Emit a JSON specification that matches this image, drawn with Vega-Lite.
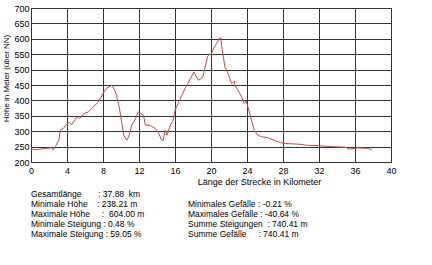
{
  "$schema": "https://vega.github.io/schema/vega-lite/v6.json",
  "padding": {"left": 2, "top": 3, "right": 5, "bottom": 0},
  "background": "white",
  "spacing": 2,
  "config": {
    "font": "Liberation Sans",
    "view": {"stroke": "#333333"},
    "axis": {
      "labelFlush": false,
      "labelFont": "Liberation Sans",
      "labelFontSize": 9,
      "labelColor": "#000000",
      "titleFont": "Liberation Sans",
      "titleFontWeight": "normal",
      "titleColor": "#000000",
      "domain": false,
      "ticks": false,
      "gridColor": "#333333",
      "gridOpacity": 1,
      "gridWidth": 1
    }
  },
  "vconcat": [
    {
      "width": 360,
      "height": 154,
      "data": {"values": [
        {"km": 0, "hoehe": 242}, {"km": 0.5, "hoehe": 240}, {"km": 1.6, "hoehe": 244}, {"km": 2.3, "hoehe": 246},
        {"km": 2.45, "hoehe": 239}, {"km": 2.7, "hoehe": 250}, {"km": 3.1, "hoehe": 271}, {"km": 3.25, "hoehe": 303},
        {"km": 3.6, "hoehe": 309}, {"km": 4.0, "hoehe": 325}, {"km": 4.2, "hoehe": 329}, {"km": 4.55, "hoehe": 322},
        {"km": 5.1, "hoehe": 347}, {"km": 5.4, "hoehe": 341}, {"km": 5.85, "hoehe": 357}, {"km": 6.4, "hoehe": 363},
        {"km": 7.1, "hoehe": 384}, {"km": 7.5, "hoehe": 395}, {"km": 8.1, "hoehe": 427}, {"km": 8.45, "hoehe": 441},
        {"km": 8.8, "hoehe": 446}, {"km": 9.0, "hoehe": 449}, {"km": 9.4, "hoehe": 427}, {"km": 9.8, "hoehe": 379},
        {"km": 10.1, "hoehe": 325}, {"km": 10.3, "hoehe": 287}, {"km": 10.65, "hoehe": 271}, {"km": 10.85, "hoehe": 282},
        {"km": 11.2, "hoehe": 320}, {"km": 11.6, "hoehe": 339}, {"km": 11.9, "hoehe": 363}, {"km": 12.15, "hoehe": 357},
        {"km": 12.5, "hoehe": 352}, {"km": 12.7, "hoehe": 320}, {"km": 13.1, "hoehe": 320}, {"km": 13.4, "hoehe": 316},
        {"km": 13.8, "hoehe": 309}, {"km": 14.2, "hoehe": 293}, {"km": 14.5, "hoehe": 271}, {"km": 14.7, "hoehe": 271},
        {"km": 14.9, "hoehe": 303}, {"km": 15.1, "hoehe": 287}, {"km": 15.5, "hoehe": 320}, {"km": 15.8, "hoehe": 336},
        {"km": 16.0, "hoehe": 368}, {"km": 16.6, "hoehe": 406}, {"km": 17.1, "hoehe": 438}, {"km": 17.7, "hoehe": 470},
        {"km": 18.1, "hoehe": 492}, {"km": 18.6, "hoehe": 465}, {"km": 19.1, "hoehe": 476}, {"km": 19.6, "hoehe": 540},
        {"km": 19.8, "hoehe": 551}, {"km": 20.0, "hoehe": 548}, {"km": 20.26, "hoehe": 567}, {"km": 20.6, "hoehe": 584},
        {"km": 20.9, "hoehe": 600}, {"km": 21.07, "hoehe": 604}, {"km": 21.26, "hoehe": 562}, {"km": 21.55, "hoehe": 508},
        {"km": 21.9, "hoehe": 487}, {"km": 22.3, "hoehe": 454}, {"km": 22.6, "hoehe": 462}, {"km": 22.65, "hoehe": 449},
        {"km": 23.0, "hoehe": 433}, {"km": 23.4, "hoehe": 411}, {"km": 23.7, "hoehe": 390}, {"km": 23.9, "hoehe": 398},
        {"km": 24.1, "hoehe": 379}, {"km": 24.5, "hoehe": 336}, {"km": 24.8, "hoehe": 303}, {"km": 25.2, "hoehe": 287},
        {"km": 25.6, "hoehe": 282}, {"km": 26.3, "hoehe": 279}, {"km": 27.0, "hoehe": 271}, {"km": 27.8, "hoehe": 262},
        {"km": 28.1, "hoehe": 260}, {"km": 29.7, "hoehe": 258}, {"km": 30.8, "hoehe": 254}, {"km": 31.9, "hoehe": 253},
        {"km": 33.4, "hoehe": 250}, {"km": 34.9, "hoehe": 248}, {"km": 35.4, "hoehe": 242}, {"km": 36.4, "hoehe": 246},
        {"km": 37.5, "hoehe": 244}, {"km": 37.88, "hoehe": 239}
      ]},
      "mark": {"type": "line", "color": "#b5504c", "strokeWidth": 1},
      "encoding": {
        "x": {
          "field": "km", "type": "quantitative",
          "scale": {"domain": [0, 40], "nice": false},
          "axis": {
            "values": [0, 4, 8, 12, 16, 20, 24, 28, 32, 36, 40],
            "labelPadding": 4,
            "title": "Länge der Strecke in Kilometer",
            "titleFontSize": 9,
            "titleX": 228,
            "titleAlign": "center",
            "titlePadding": 2
          }
        },
        "y": {
          "field": "hoehe", "type": "quantitative",
          "scale": {"domain": [200, 700], "nice": false, "zero": false},
          "axis": {
            "values": [200, 250, 300, 350, 400, 450, 500, 550, 600, 650, 700],
            "labelPadding": 2,
            "title": "Höhe in Meter (über NN)",
            "titleFontSize": 8,
            "titleY": 70,
            "titlePadding": 3
          }
        }
      }
    },
    {
      "width": 360,
      "height": 50,
      "view": {"stroke": null},
      "data": {"values": [
        {"spalte": "links", "zeile": 0, "text": "Gesamtlänge\u00a0\u00a0\u00a0\u00a0\u00a0\u00a0\u00a0: 37.88\u00a0 km"},
        {"spalte": "links", "zeile": 1, "text": "Minimale Höhe\u00a0\u00a0\u00a0\u00a0: 238.21 m"},
        {"spalte": "links", "zeile": 2, "text": "Maximale Höhe\u00a0\u00a0\u00a0\u00a0\u00a0:\u00a0 604.00 m"},
        {"spalte": "links", "zeile": 3, "text": "Minimale Steigung : 0.48 %"},
        {"spalte": "links", "zeile": 4, "text": "Maximale Steigung : 59.05 %"},
        {"spalte": "rechts", "zeile": 1, "text": "Minimales Gefälle : -0.21 %"},
        {"spalte": "rechts", "zeile": 2, "text": "Maximales Gefälle : -40.64 %"},
        {"spalte": "rechts", "zeile": 3, "text": "Summe Steigungen\u00a0 : 740.41 m"},
        {"spalte": "rechts", "zeile": 4, "text": "Summe Gefälle\u00a0\u00a0\u00a0\u00a0 : 740.41 m"}
      ]},
      "mark": {"type": "text", "align": "left", "baseline": "middle", "fontSize": 8.5, "font": "Liberation Sans", "color": "#000000"},
      "encoding": {
        "x": {"field": "spalte", "type": "nominal", "scale": {"type": "point", "padding": 0, "domain": ["links", "rechts"], "range": [0, 157]}, "axis": null},
        "y": {"field": "zeile", "type": "ordinal", "scale": {"type": "point", "domain": [0, 1, 2, 3, 4], "padding": 0.5}, "axis": null},
        "text": {"field": "text"}
      }
    }
  ]
}
